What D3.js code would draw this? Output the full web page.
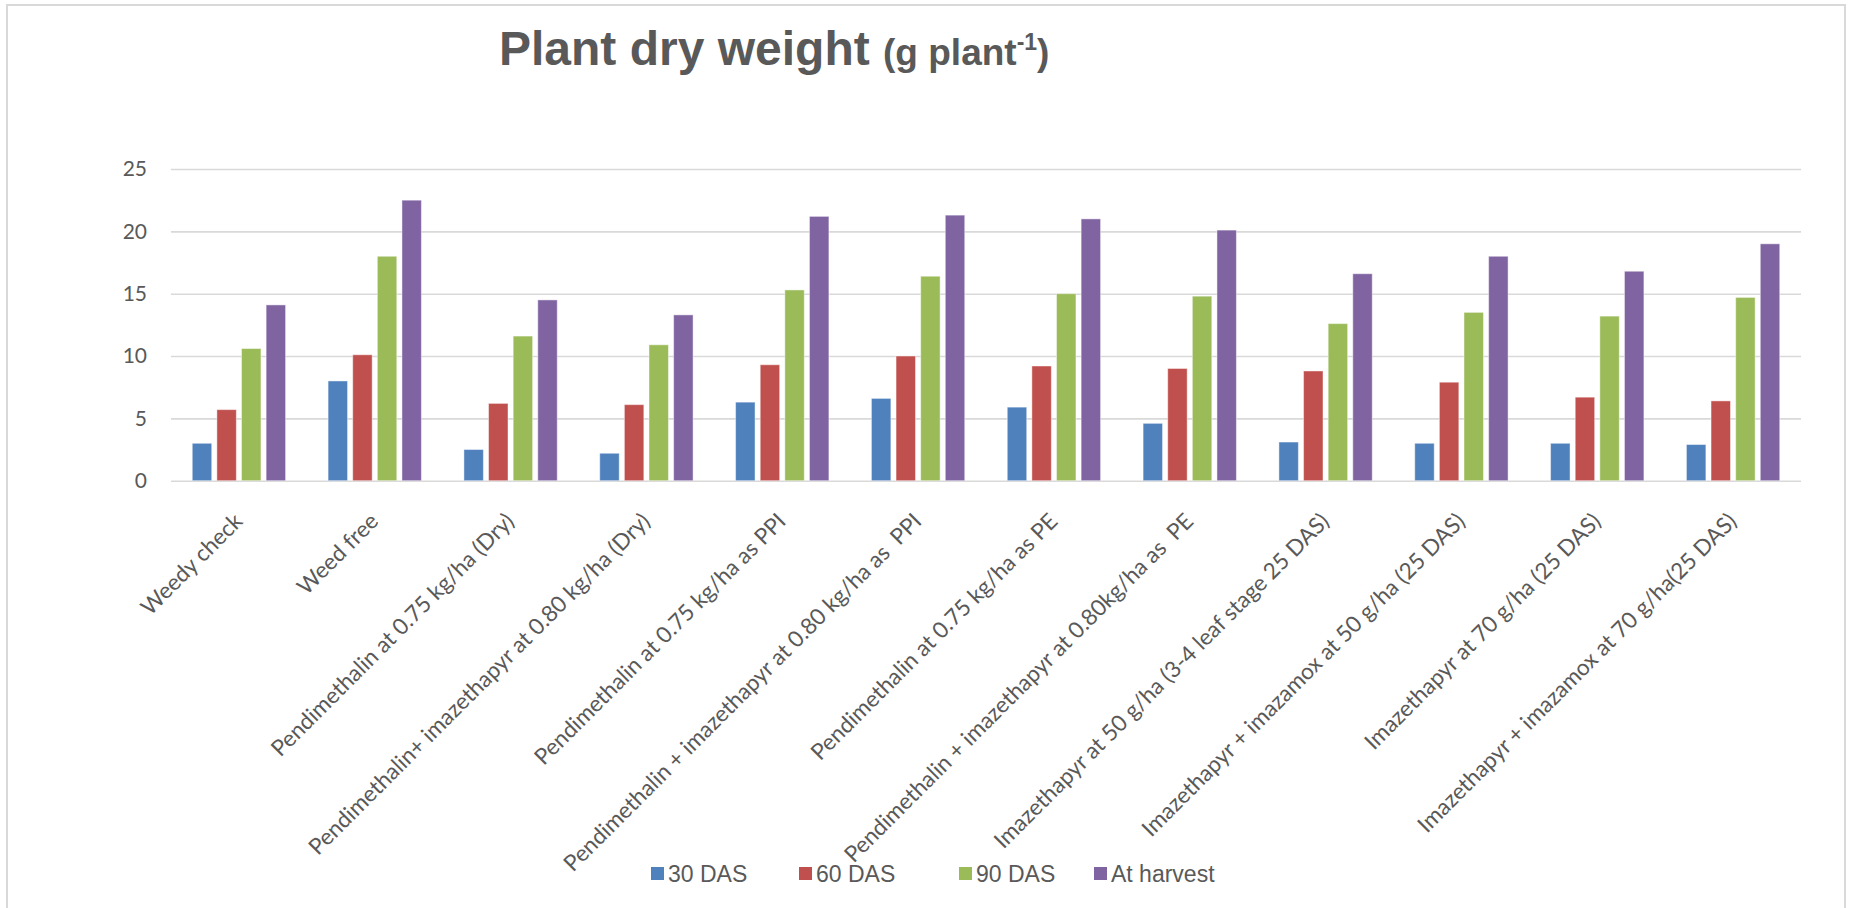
<!DOCTYPE html>
<html>
<head>
<meta charset="utf-8">
<script src="https://cdn.jsdelivr.net/npm/d3@7"></script>
<style>
  body { margin: 0; background: #fff; }
  svg { display: block; }
</style>
</head>
<body>
<svg id="chart" width="1851" height="908"></svg>
<script>
// data
const categories = [
    "Weedy check",
    "Weed free",
    "Pendimethalin at 0.75 kg/ha (Dry)",
    "Pendimethalin+ imazethapyr at 0.80 kg/ha (Dry)",
    "Pendimethalin at 0.75 kg/ha as PPI",
    "Pendimethalin + imazethapyr at 0.80 kg/ha as  PPI",
    "Pendimethalin at 0.75 kg/ha as PE",
    "Pendimethalin + imazethapyr at 0.80kg/ha as  PE",
    "Imazethapyr at 50 g/ha (3-4 leaf stage 25 DAS)",
    "Imazethapyr + imazamox at 50 g/ha (25 DAS)",
    "Imazethapyr at 70 g/ha (25 DAS)",
    "Imazethapyr + imazamox at 70 g/ha(25 DAS)"
]
const seriesNames = ["30 DAS", "60 DAS", "90 DAS", "At harvest"]
const das30 = [3.0, 8.0, 2.5, 2.2, 6.3, 6.6, 5.9, 4.6, 3.1, 3.0, 3.0, 2.9]
const das60 = [5.7, 10.1, 6.2, 6.1, 9.3, 10.0, 9.2, 9.0, 8.8, 7.9, 6.7, 6.4]
const das90 = [10.6, 18.0, 11.6, 10.9, 15.3, 16.4, 15.0, 14.8, 12.6, 13.5, 13.2, 14.7]
const atHarvest = [14.1, 22.5, 14.5, 13.3, 21.2, 21.3, 21.0, 20.1, 16.6, 18.0, 16.8, 19.0]
const yTicks = [0, 5, 10, 15, 20, 25]

const colors = ["#4F81BD", "#C0504D", "#9BBB59", "#8064A2"]
const textColor = "#595959"
const gridColor = "#d9d9d9"

let svg = d3.select("#chart")

let plot = { left: 171, right: 1801, top: 169, bottom: 480.7 }

// outer chart border
svg.append("rect")
    .attr("x", 7)
    .attr("y", 5)
    .attr("width", 1838)
    .attr("height", 1000)
    .style("fill", "#fff")
    .style("stroke", gridColor)
    .style("stroke-width", 2)

let rows = categories.map((c, i) => ({
    category: c,
    values: [das30[i], das60[i], das90[i], atHarvest[i]]
}))

let x0 = d3.scaleBand()
    .domain(categories)
    .range([plot.left, plot.right])
    .paddingInner(0.313)
    .paddingOuter(0.1565)

let x1 = d3.scaleBand()
    .domain(seriesNames)
    .range([0, x0.bandwidth()])
    .paddingInner(0.21)

let yScale = d3.scaleLinear()
    .domain([0, 25])
    .range([plot.bottom, plot.top])

// gridlines + y labels
let yAxis = d3.axisLeft(yScale)
    .tickValues(yTicks)
    .tickSize(-(plot.right - plot.left))
    .tickPadding(24)

let gY = svg.append("g")
    .attr("transform", "translate(" + plot.left + ",0)")
    .call(yAxis)
gY.select(".domain").remove()
gY.selectAll(".tick line")
    .style("stroke", gridColor)
    .style("stroke-width", 1.6)
gY.selectAll(".tick text")
    .style("fill", textColor)
    .style("font-family", "Lato, 'Open Sans', sans-serif")
    .style("font-size", "21px")

// x axis labels (the 0 gridline is the axis line)
let xAxis = d3.axisBottom(x0).tickSize(0)
let gX = svg.append("g")
    .attr("transform", "translate(0," + plot.bottom + ")")
    .call(xAxis)
gX.select(".domain").remove()
gX.selectAll(".tick text")
    .attr("x", 0)
    .attr("y", 0)
    .attr("dy", 0)
    .attr("transform", "translate(5,42) rotate(-45)")
    .style("text-anchor", "end")
    .style("white-space", "pre")
    .style("fill", textColor)
    .style("font-family", "Lato, 'Open Sans', sans-serif")
    .style("font-size", "22.5px")

// bars
let groups = svg.append("g")
    .selectAll("g")
    .data(rows)
    .enter().append("g")
        .attr("transform", d => "translate(" + x0(d.category) + ",0)")

groups.selectAll("rect")
    .data(d => d.values.map((v, i) => ({ key: seriesNames[i], value: v, i: i })))
    .enter().append("rect")
        .attr("x", d => x1(d.key))
        .attr("y", d => yScale(d.value))
        .attr("width", x1.bandwidth())
        .attr("height", d => yScale(0) - yScale(d.value))
        .style("fill", d => colors[d.i])
        .style("stroke", "#fff")
        .style("stroke-opacity", 0.45)
        .style("stroke-width", 1)

// title
let title = svg.append("text")
    .attr("x", 499)
    .attr("y", 65)
    .style("fill", textColor)
    .style("font-family", "'Liberation Sans', Arial, sans-serif")
    .style("font-weight", "bold")
title.append("tspan").style("font-size", "48px").text("Plant dry weight ")
title.append("tspan").style("font-size", "37px").text("(g plant")
title.append("tspan").style("font-size", "23px").attr("dy", -15).text("-1")
title.append("tspan").style("font-size", "37px").attr("dy", 15).text(")")

// legend
let legendX = [651, 799, 959, 1094]
let legend = svg.append("g")
    .selectAll("g")
    .data(seriesNames)
    .enter().append("g")
        .attr("transform", (d, i) => "translate(" + legendX[i] + ",867)")

legend.append("rect")
    .attr("width", 13)
    .attr("height", 13)
    .style("fill", (d, i) => colors[i])

legend.append("text")
    .attr("x", 17)
    .attr("y", 14.5)
    .style("fill", textColor)
    .style("font-family", "'Liberation Sans', Arial, sans-serif")
    .style("font-size", "23px")
    .text(d => d)
</script>
</body>
</html>
